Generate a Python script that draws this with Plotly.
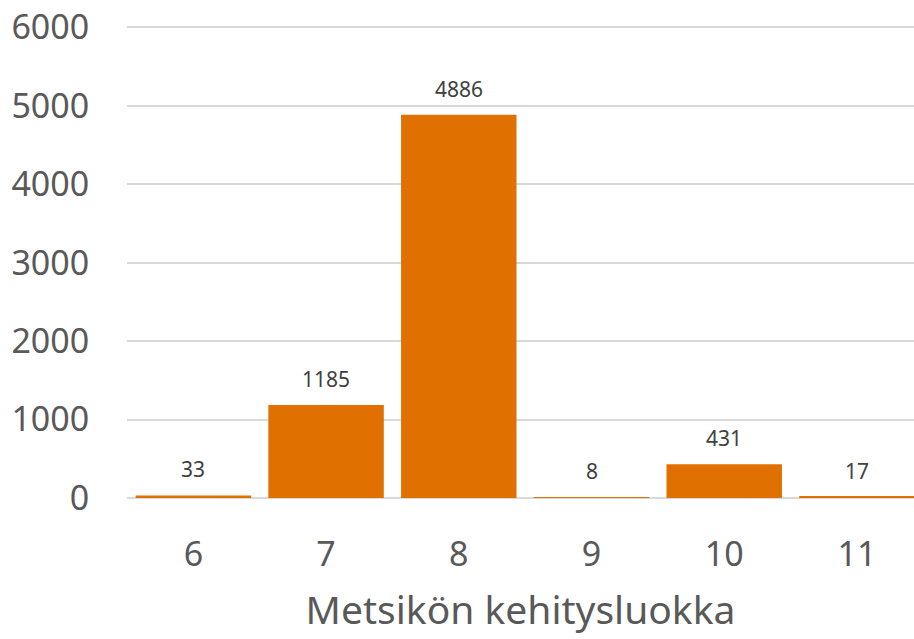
import plotly.graph_objects as go

categories = ["6", "7", "8", "9", "10", "11"]
values = [33, 1185, 4886, 8, 431, 17]
y_ticks = [0, 1000, 2000, 3000, 4000, 5000, 6000]

fig = go.Figure(go.Bar(
    x=categories,
    y=values,
    marker=dict(color="#E07000", line=dict(width=0)),
    cliponaxis=False,
))

# data labels sit a bit above each bar (x as category index)
for i, v in enumerate(values):
    fig.add_annotation(
        x=i, y=v, text=str(v), showarrow=False,
        yanchor="bottom", yshift=10,
        font=dict(size=21, color="#404040"),
    )

fig.update_layout(
    width=914,
    height=639,
    margin=dict(l=127, r=0, t=25, b=141),
    plot_bgcolor="white",
    paper_bgcolor="white",
    font=dict(family="Noto Sans, Open Sans, sans-serif", color="#595959"),
    bargap=0.13,
    showlegend=False,
)
fig.update_xaxes(
    type="category",
    range=[-0.5, 5.43],
    automargin=False,
    tickfont=dict(size=34, color="#595959"),
    ticks="outside",
    ticklen=26,
    tickcolor="white",
    showgrid=False,
    showline=False,
    title=dict(text="Metsikön kehitysluokka", font=dict(size=39, color="#595959"), standoff=21),
)
# top slightly above 6000 so the 6000 gridline is drawn
fig.update_yaxes(
    range=[0, 6030],
    automargin=False,
    tickvals=y_ticks,
    tickfont=dict(size=34, color="#595959"),
    ticklabeloverflow="allow",
    gridcolor="#d9d9d9",
    gridwidth=1.5,
    zeroline=True,
    zerolinecolor="#d9d9d9",
    zerolinewidth=1.5,
    ticks="outside",
    ticklen=30,
    tickcolor="white",
)

# drop the page's default body margin so the chart fills the window
fig.write_html(
    "out.html",
    config={"displayModeBar": False},
    post_script="document.body.style.margin='0';",
)
